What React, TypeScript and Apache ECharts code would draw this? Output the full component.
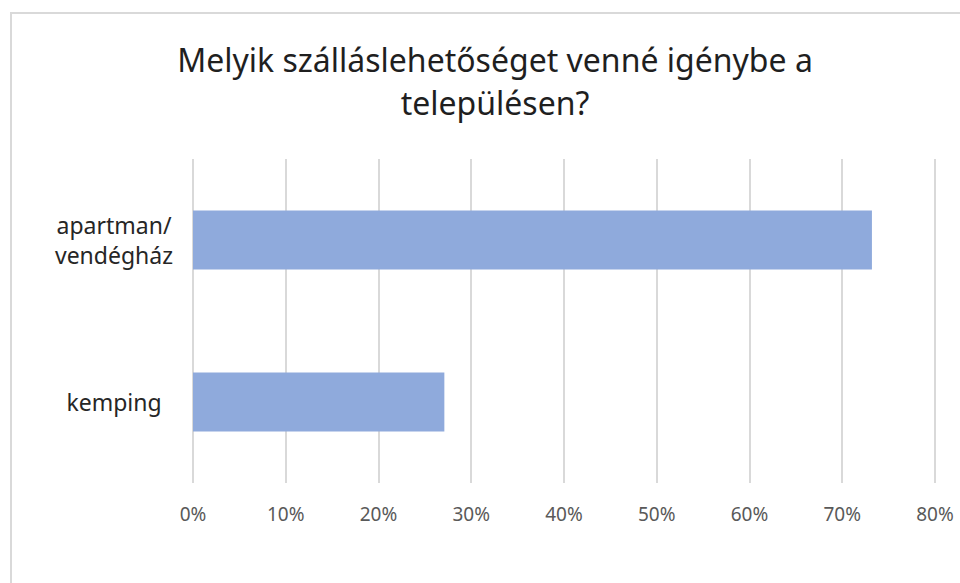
import React, { useEffect, useRef } from "react";
import * as echarts from "echarts";

const titleLines = ["Melyik szálláslehetőséget venné igénybe a", "településen?"];
const categories = ["apartman/\nvendégház", "kemping"];
const values = [0.732, 0.271];
const axisMax = 0.8;
const axisInterval = 0.1;

export default function App() {
  const ref = useRef<HTMLDivElement>(null);
  useEffect(() => {
    if (!ref.current) return;
    const chart = echarts.init(ref.current, null, { renderer: "svg" });
    chart.setOption({
      animation: false,
      backgroundColor: "#ffffff",
      textStyle: { fontFamily: "Noto Sans" },
      title: {
        text: titleLines.join("\n"),
        left: 490,
        top: 33,
        textAlign: "center",
        textStyle: {
          fontFamily: "Noto Sans",
          fontSize: 32,
          fontWeight: "normal",
          color: "#1f1f1f",
          lineHeight: 43,
        },
      },
      graphic: [
        {
          type: "rect",
          shape: { x: 11, y: 13, width: 1000, height: 1000 },
          style: { fill: "none", stroke: "#d9d9d9", lineWidth: 2 },
          silent: true,
        },
      ],
      grid: { left: 193, right: 25, top: 159, bottom: 100, containLabel: false },
      xAxis: {
        type: "value",
        min: 0,
        max: axisMax,
        interval: axisInterval,
        axisLine: { show: false },
        axisTick: { show: false },
        splitLine: { show: true, lineStyle: { color: "#d9d9d9", width: 2 } },
        axisLabel: {
          color: "#595959",
          fontSize: 19,
          fontFamily: "Noto Sans",
          margin: 21,
          formatter: (v: number) => `${Math.round(v * 100)}%`,
        },
      },
      yAxis: {
        type: "category",
        data: categories,
        inverse: true,
        axisLine: { show: false },
        axisTick: { show: false },
        splitLine: { show: false },
        axisLabel: {
          color: "#262626",
          fontSize: 23,
          fontFamily: "Noto Sans",
          lineHeight: 30,
          align: "center",
          margin: 79,
        },
      },
      series: [
        {
          type: "bar",
          data: values,
          barWidth: 59,
          itemStyle: { color: "#8faadc" },
        },
      ],
    });
    return () => chart.dispose();
  }, []);
  return (
    <div
      ref={ref}
      style={{ position: "absolute", left: 0, top: 0, width: 960, height: 583 }}
    />
  );
}
